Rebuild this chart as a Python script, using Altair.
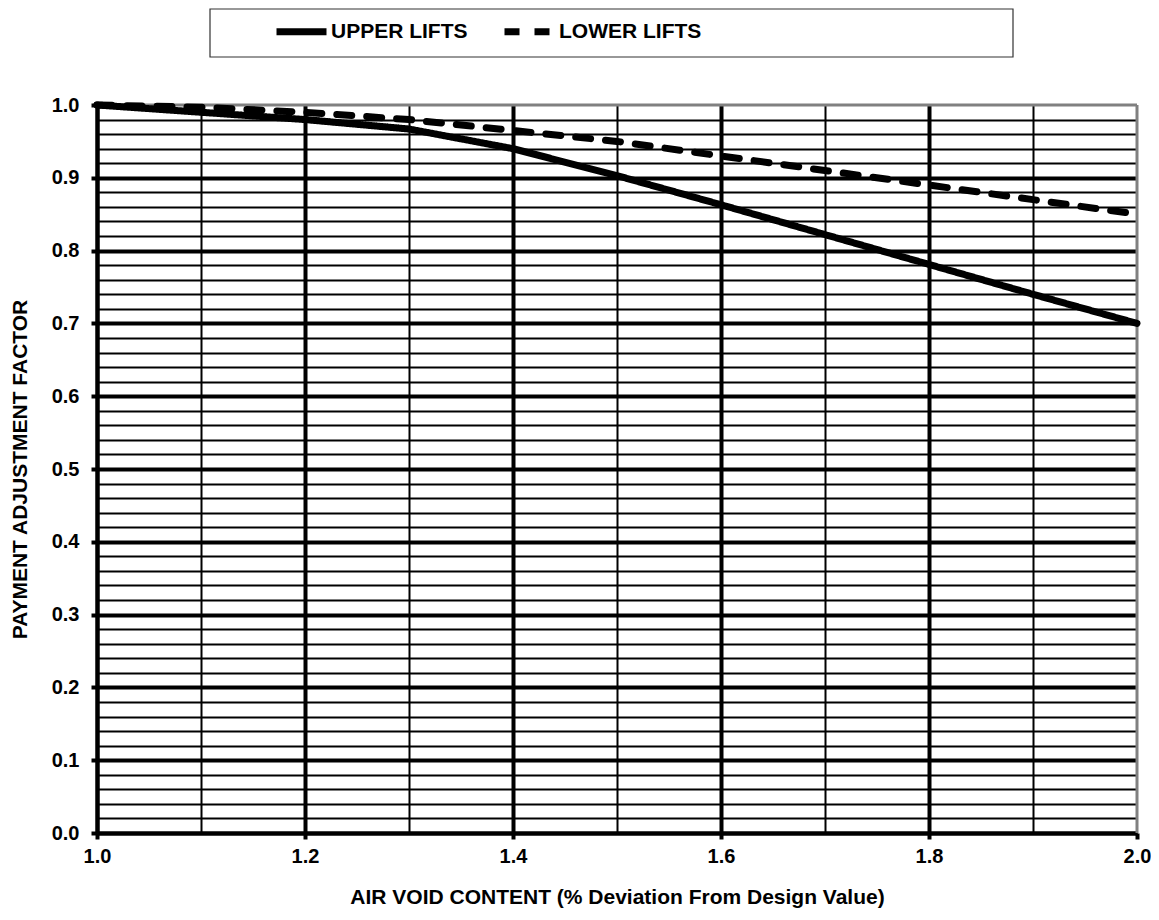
import altair as alt
import pandas as pd

# ---- data ----
air_void = [1.0, 1.1, 1.2, 1.3, 1.4, 1.5, 1.6, 1.7, 1.8, 1.9, 2.0]
upper_lifts = [1.0, 0.99, 0.98, 0.967, 0.94, 0.903, 0.863, 0.822, 0.781, 0.74, 0.70]
lower_lifts = [1.0, 0.997, 0.99, 0.98, 0.965, 0.95, 0.93, 0.91, 0.89, 0.87, 0.85]
series_names = ["UPPER LIFTS", "LOWER LIFTS"]

x_tick_values = [round(1.0 + i * 0.1, 1) for i in range(11)]
y_tick_values = [round(i * 0.02, 2) for i in range(51)]

rows = []
for name, vals in zip(series_names, [upper_lifts, lower_lifts]):
    for xv, yv in zip(air_void, vals):
        rows.append({"x": xv, "y": yv, "series": name})
df = pd.DataFrame(rows)

FONT = "Liberation Sans"

x_major = "abs(datum.value*5 - round(datum.value*5)) < 0.0001"
y_major = "abs(datum.value*10 - round(datum.value*10)) < 0.0001"

x_axis = alt.Axis(
    title="AIR VOID CONTENT (% Deviation From Design Value)",
    values=x_tick_values,
    labelExpr="abs(datum.value*5 - round(datum.value*5)) < 0.0001 ? format(datum.value, '.1f') : ''",
    grid=True,
    gridColor="black",
    gridWidth={"condition": {"test": x_major, "value": 4}, "value": 2},
    gridOpacity={"condition": {"test": "datum.value > 1.999", "value": 0}, "value": 1},
    tickColor="black",
    tickWidth=4,
    tickSize={"condition": {"test": x_major, "value": 6}, "value": 0},
    domainColor="black",
    domainWidth=4,
    labelFont=FONT, labelFontSize=20, labelFontWeight="bold", labelColor="black",
    labelPadding=7,
    labelFlush=False,
    titleFont=FONT, titleFontSize=21, titleFontWeight="bold", titleColor="black",
    titlePadding=20,
)

y_axis = alt.Axis(
    title="PAYMENT ADJUSTMENT FACTOR",
    values=y_tick_values,
    labelExpr="abs(datum.value*10 - round(datum.value*10)) < 0.0001 ? format(datum.value, '.1f') : ''",
    grid=True,
    gridColor="black",
    gridWidth={"condition": {"test": y_major, "value": 4}, "value": 2},
    gridOpacity={"condition": {"test": "datum.value > 0.999", "value": 0}, "value": 1},
    tickColor="black",
    tickWidth=4,
    tickSize={"condition": {"test": y_major, "value": 6}, "value": 0},
    domainColor="black",
    domainWidth=4,
    labelFont=FONT, labelFontSize=20, labelFontWeight="bold", labelColor="black",
    labelPadding=12,
    labelFlush=False,
    titleFont=FONT, titleFontSize=21, titleFontWeight="bold", titleColor="black",
    titlePadding=21,
)

legend = alt.Legend(
    title=None,
    orient="none",
    direction="horizontal",
    legendX=176,
    legendY=-102,
    symbolType="stroke",
    symbolSize=2500,
    symbolStrokeWidth=7,
    symbolStrokeColor="black",
    labelFont=FONT,
    labelFontSize=21,
    labelFontWeight="bold",
    labelColor="black",
    labelOffset=1,
    columnPadding=22,
    padding=0,
    zindex=2,
)

lines = alt.Chart(df).mark_line(
    color="black", strokeWidth=7, strokeCap="round", strokeJoin="round"
).encode(
    x=alt.X("x:Q", scale=alt.Scale(domain=[1.0, 2.0], nice=False, zero=False), axis=x_axis),
    y=alt.Y("y:Q", scale=alt.Scale(domain=[0.0, 1.0], nice=False), axis=y_axis),
    strokeDash=alt.StrokeDash(
        "series:N",
        scale=alt.Scale(domain=series_names, range=[[1, 0], [15, 15]]),
        sort=series_names,
        legend=legend,
    ),
    detail="series:N",
)

frame_df = pd.DataFrame({"k": [0]})
border_top = alt.Chart(frame_df).mark_rule(color="#808080", strokeWidth=3).encode(
    x=alt.value(0), x2=alt.value("width"), y=alt.value(0)
)
border_right = alt.Chart(frame_df).mark_rule(color="#808080", strokeWidth=3).encode(
    x=alt.value("width"), y=alt.value(0), y2=alt.value("height")
)
legend_box = alt.Chart(frame_df).mark_rect(
    fillOpacity=0, stroke="#333333", strokeWidth=1.2
).encode(
    x=alt.value(113), x2=alt.value(916), y=alt.value(-96), y2=alt.value(-48)
)

chart = alt.layer(border_top, border_right, legend_box, lines).properties(
    width=1040,
    height=728,
    autosize=alt.AutoSizeParams(type="none"),
    padding={"left": 89, "top": 97, "right": 14, "bottom": 79},
    background="white",
).configure_view(stroke=None)

chart.save("out.html", embed_options={"renderer": "svg", "actions": False})
